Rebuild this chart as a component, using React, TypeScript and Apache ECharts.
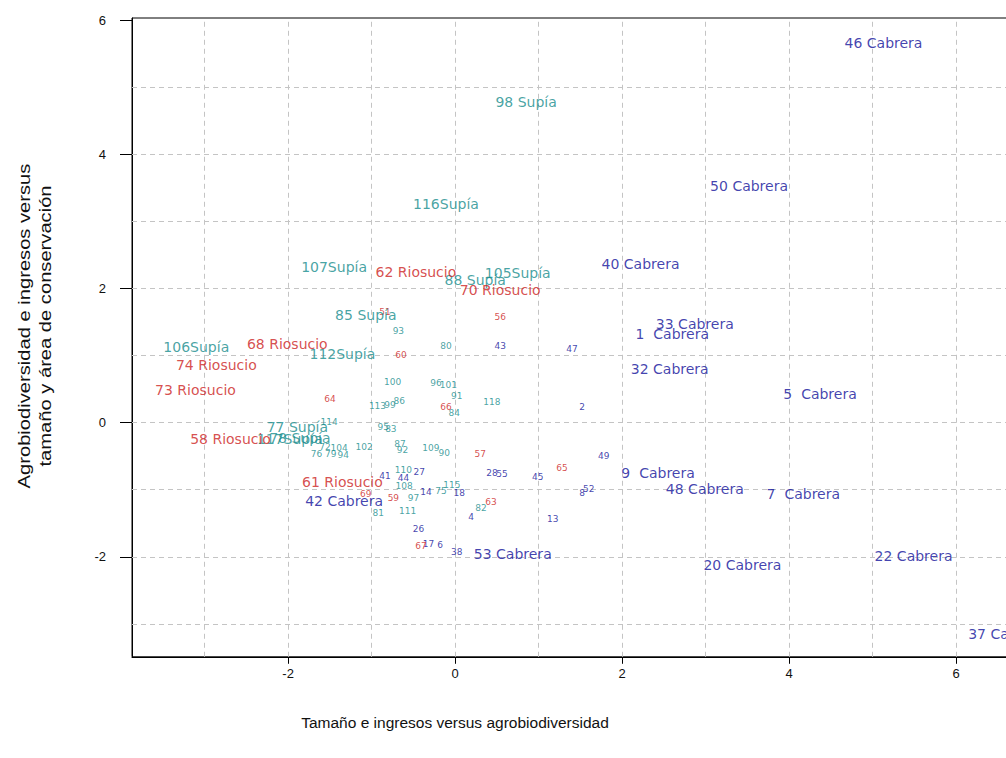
import React, { useEffect, useRef } from "react";
import * as echarts from "echarts";

type P = [number, number, string];

// Labelled farms (municipality name shown)
const cabreraBig: P[] = [
  [5.13, 5.66, "46 Cabrera"],
  [3.52, 3.53, "50 Cabrera"],
  [2.22, 2.36, "40 Cabrera"],
  [2.87, 1.47, "33 Cabrera"],
  [2.6, 1.32, "1  Cabrera"],
  [2.57, 0.8, "32 Cabrera"],
  [4.37, 0.43, "5  Cabrera"],
  [2.43, -0.75, "9  Cabrera"],
  [2.99, -0.99, "48 Cabrera"],
  [4.17, -1.06, "7  Cabrera"],
  [-1.33, -1.17, "42 Cabrera"],
  [0.69, -1.96, "53 Cabrera"],
  [3.44, -2.12, "20 Cabrera"],
  [5.49, -1.99, "22 Cabrera"],
  [6.61, -3.15, "37 Cabrera"],
];

const riosucioBig: P[] = [
  [-0.47, 2.24, "62 Riosucio"],
  [0.54, 1.98, "70 Riosucio"],
  [-2.01, 1.17, "68 Riosucio"],
  [-2.86, 0.86, "74 Riosucio"],
  [-3.11, 0.49, "73 Riosucio"],
  [-2.69, -0.24, "58 Riosucio"],
  [-1.35, -0.89, "61 Riosucio"],
];

const supiaBig: P[] = [
  [0.85, 4.78, "98 Supía"],
  [-0.11, 3.26, "116Supía"],
  [-1.45, 2.32, "107Supía"],
  [0.75, 2.23, "105Supía"],
  [0.24, 2.13, "88 Supía"],
  [-1.07, 1.6, "85 Supía"],
  [-3.1, 1.13, "106Supía"],
  [-1.35, 1.02, "112Supía"],
  [-1.89, -0.07, "77 Supía"],
  [-1.98, -0.24, "117Supía"],
  [-1.86, -0.23, "78 Supía"],
];

// Farms shown by number only
const cabreraSmall: P[] = [
  [0.54, 1.14, "43"],
  [1.4, 1.1, "47"],
  [1.52, 0.23, "2"],
  [1.78, -0.5, "49"],
  [0.44, -0.75, "28"],
  [0.56, -0.77, "55"],
  [0.99, -0.81, "45"],
  [1.52, -1.05, "8"],
  [1.6, -0.99, "52"],
  [1.17, -1.44, "13"],
  [0.19, -1.41, "4"],
  [-0.35, -1.03, "14"],
  [0.05, -1.05, "18"],
  [-0.44, -1.59, "26"],
  [-0.32, -1.81, "17"],
  [-0.18, -1.82, "6"],
  [0.02, -1.93, "38"],
  [-0.43, -0.74, "27"],
  [-0.84, -0.8, "41"],
  [-0.62, -0.83, "44"],
];

const riosucioSmall: P[] = [
  [0.54, 1.57, "56"],
  [-0.84, 1.65, "51"],
  [-0.65, 1.01, "60"],
  [-1.5, 0.35, "64"],
  [-0.11, 0.23, "66"],
  [0.3, -0.47, "57"],
  [1.28, -0.68, "65"],
  [0.43, -1.18, "63"],
  [-1.07, -1.06, "69"],
  [-0.74, -1.12, "59"],
  [-0.41, -1.84, "67"],
];

const supiaSmall: P[] = [
  [-0.68, 1.37, "93"],
  [-0.11, 1.14, "80"],
  [-0.75, 0.61, "100"],
  [-0.23, 0.59, "96"],
  [-0.08, 0.56, "101"],
  [0.02, 0.4, "91"],
  [-0.93, 0.25, "113"],
  [-0.78, 0.26, "99"],
  [-0.67, 0.32, "86"],
  [-0.01, 0.14, "84"],
  [0.44, 0.31, "118"],
  [-0.86, -0.07, "95"],
  [-0.77, -0.1, "83"],
  [-1.09, -0.36, "102"],
  [-0.66, -0.32, "87"],
  [-0.63, -0.41, "92"],
  [-0.29, -0.38, "109"],
  [-0.13, -0.45, "90"],
  [-1.51, 0.01, "114"],
  [-1.39, -0.38, "104"],
  [-1.56, -0.36, "72"],
  [-1.66, -0.47, "76"],
  [-1.49, -0.47, "79"],
  [-1.34, -0.48, "94"],
  [-0.62, -0.71, "110"],
  [-0.61, -0.94, "108"],
  [-0.5, -1.12, "97"],
  [-0.57, -1.32, "111"],
  [-0.92, -1.35, "81"],
  [0.31, -1.27, "82"],
  [-0.04, -0.93, "115"],
  [-0.17, -1.02, "75"],
];

const xTicks = [-2, 0, 2, 4, 6];
const yTicks = [-2, 0, 2, 4, 6];
const xGrid = [-3, -2, -1, 0, 1, 2, 3, 4, 5, 6];
const yGrid = [-3, -2, -1, 0, 1, 2, 3, 4, 5];

const X_MIN = -3.87;
const X_MAX = 7.0;
const Y_MIN = -3.49;
const Y_MAX = 6.03;

const BLUE = "#12129a";
const RED = "#cc2222";
const TEAL = "#168c8c";

export default function App() {
  const ref = useRef<HTMLDivElement>(null);

  useEffect(() => {
    const chart = echarts.init(ref.current as HTMLDivElement, null, {
      renderer: "svg",
    });

    const textSeries = (data: P[], color: string, size: number, extra: any = {}) => ({
      type: "scatter",
      data,
      symbolSize: 1,
      silent: true,
      itemStyle: { color: "rgba(0,0,0,0)" },
      label: {
        show: true,
        position: "inside",
        formatter: (p: any) => p.value[2],
        color,
        fontSize: size,
        fontFamily: "DejaVu Sans",
      },
      labelLayout: { hideOverlap: false },
      z: 5,
      ...extra,
    });

    const axisCommon = {
      type: "value",
      splitLine: { show: false },
      axisLine: { show: true, onZero: false, lineStyle: { color: "#000", width: 1 } },
    };

    const plotW = (X_MAX - X_MIN) * 83.5;
    const plotH = (Y_MAX - Y_MIN) * 67.1;

    chart.setOption({
      animation: false,
      backgroundColor: "#fff",
      grid: {
        left: 132,
        top: 18,
        right: 1006 - 132 - plotW,
        bottom: 758 - 18 - plotH,
        outerBoundsMode: "none",
        containLabel: false,
        show: true,
        borderColor: "#000",
        borderWidth: 1,
        backgroundColor: "transparent",
      },
      xAxis: {
        ...axisCommon,
        min: X_MIN,
        max: X_MAX,
        axisTick: {
          show: true,
          length: 7,
          customValues: xTicks,
          lineStyle: { color: "#000" },
        },
        axisLabel: {
          customValues: xTicks,
          margin: 10,
          color: "#111",
          fontSize: 13,
          fontFamily: "Liberation Sans",
        },
      },
      yAxis: {
        ...axisCommon,
        min: Y_MIN,
        max: Y_MAX,
        axisTick: {
          show: true,
          length: 12,
          customValues: yTicks,
          lineStyle: { color: "#000" },
        },
        axisLabel: {
          customValues: yTicks,
          margin: 26,
          color: "#111",
          fontSize: 13,
          fontFamily: "Liberation Sans",
        },
      },
      series: [
        textSeries(supiaSmall, TEAL, 9, {
          markLine: {
            silent: true,
            symbol: "none",
            animation: false,
            label: { show: false },
            lineStyle: { color: "#c4c4c4", width: 1, type: [5, 4] },
            emphasis: { disabled: true },
            data: [
              ...xGrid.map((v) => ({ xAxis: v })),
              ...yGrid.map((v) => ({ yAxis: v })),
            ],
          },
        }),
        textSeries(cabreraSmall, BLUE, 9),
        textSeries(riosucioSmall, RED, 9),
        textSeries(supiaBig, TEAL, 14),
        textSeries(riosucioBig, RED, 14),
        textSeries(cabreraBig, BLUE, 14),
      ],
      graphic: [
        {
          type: "text",
          x: 455,
          y: 722,
          style: {
            text: "Tamaño e ingresos versus agrobiodiversidad",
            fontSize: 15.5,
            fontFamily: "Liberation Sans",
            fill: "#111",
            textAlign: "center",
            textVerticalAlign: "middle",
          },
        },
        {
          type: "text",
          x: 25,
          y: 326,
          rotation: Math.PI / 2,
          scaleX: 1.26,
          style: {
            text: "Agrobiodiversidad e ingresos versus",
            fontSize: 16,
            fontFamily: "Liberation Sans",
            fill: "#111",
            textAlign: "center",
            textVerticalAlign: "middle",
          },
        },
        {
          type: "text",
          x: 46,
          y: 326,
          rotation: Math.PI / 2,
          scaleX: 1.26,
          style: {
            text: "tamaño y área de conservación",
            fontSize: 16,
            fontFamily: "Liberation Sans",
            fill: "#111",
            textAlign: "center",
            textVerticalAlign: "middle",
          },
        },
      ],
    });

    return () => chart.dispose();
  }, []);

  return (
    <div
      ref={ref}
      style={{ position: "fixed", left: 0, top: 0, width: 1006, height: 758 }}
    />
  );
}
